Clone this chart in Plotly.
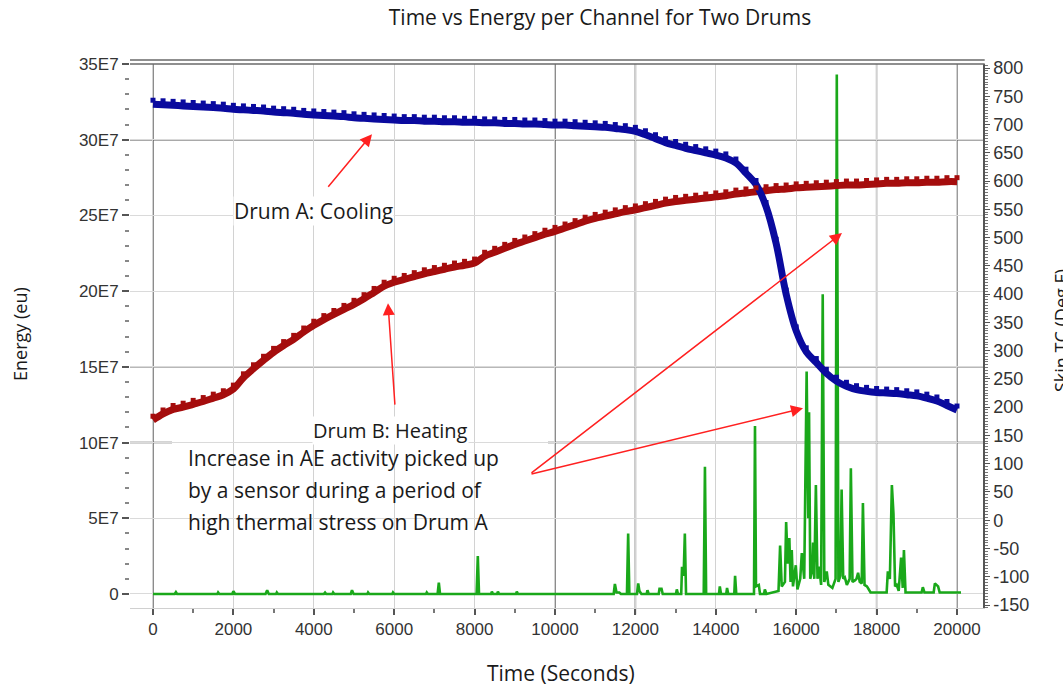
import plotly.graph_objects as go

# ---------------- data ----------------
temp_time = [i * 250 for i in range(81)]  # seconds, sampled every 250 s

drum_a_temp = [736, 735, 734, 733, 732, 731, 730, 729, 727, 726, 725, 724, 722, 721, 720, 718,
               717, 716, 715, 714, 712, 711, 710, 709, 708, 707, 707, 706, 706, 705, 705, 704,
               704, 703, 703, 702, 702, 701, 701, 700, 699, 699, 698, 697, 696, 695, 693, 691,
               688, 682, 675, 668, 663, 658, 654, 650, 646, 641, 632, 614, 594, 555, 490, 400,
               335, 298, 279, 260, 246, 237, 231, 228, 226, 225, 224, 222, 220, 216, 211, 203, 195]

drum_b_temp = [177, 188, 196, 200, 205, 210, 216, 222, 232, 252, 268, 283, 297, 309, 320, 333,
               345, 355, 364, 373, 382, 392, 403, 414, 421, 426, 431, 436, 440, 444, 448, 451,
               455, 467, 474, 481, 488, 494, 500, 506, 511, 517, 523, 529, 534, 538, 542, 546,
               549, 553, 557, 561, 564, 566, 568, 570, 572, 574, 577, 579, 581, 583, 585, 586,
               588, 589, 590, 591, 592, 593, 593, 594, 595, 596, 596, 597, 597, 598, 598, 599, 599]

ae_time = [0, 540, 570, 600, 1600, 1620, 1650, 1970, 2000, 2040, 2800, 2840, 2880, 3060, 3080, 3110,
           4250, 4280, 4310, 4460, 4480, 4510, 4920, 4950, 4990, 5330, 5350, 5380, 5950, 5970, 6000,
           6790, 6810, 6840, 7080, 7110, 7140, 8050, 8080, 8110, 8410, 8430, 8460, 8560, 8580, 8610,
           9030, 9050, 9080, 11460, 11490, 11530, 11600, 11640, 11790, 11820, 11850, 12040, 12070,
           12100, 12150, 12280, 12300, 12330, 12580, 12600, 12650, 12680, 13010, 13030, 13060, 13140,
           13160, 13200, 13230, 13260, 13700, 13730, 13760, 14080, 14100, 14130, 14260, 14280, 14310,
           14460, 14480, 14510, 14950, 14975, 15000, 15070, 15100, 15200, 15220, 15260, 15560, 15600,
           15640, 15720, 15750, 15790, 15830, 15860, 15890, 15920, 15990, 16030, 16100, 16140, 16200,
           16260, 16300, 16320, 16350, 16380, 16400, 16420, 16450, 16490, 16530, 16570, 16620, 16660,
           16700, 16760, 16800, 16900, 16980, 17010, 17050, 17100, 17130, 17170, 17210, 17260, 17330,
           17360, 17400, 17460, 17500, 17540, 17580, 17630, 17660, 17700, 17760, 17850, 18000, 18250,
           18280, 18330, 18380, 18420, 18460, 18500, 18550, 18610, 18650, 18680, 18720, 19120, 19150,
           19190, 19420, 19450, 19490, 19530, 19570, 20100]

ae_energy_e7 = [0, 0, 0.12, 0, 0, 0.1, 0, 0, 0.18, 0, 0, 0.25, 0, 0, 0.1, 0,
                0, 0.1, 0, 0, 0.1, 0, 0, 0.25, 0, 0, 0.1, 0, 0, 0.1, 0,
                0, 0.1, 0, 0, 0.75, 0, 0, 2.5, 0, 0, 0.15, 0, 0, 0.15, 0,
                0, 0.15, 0, 0, 0.66, 0.1, 0.1, 0, 0, 4.0, 0, 0, 0.7,
                0.2, 0, 0, 0.25, 0, 0, 0.35, 0.35, 0, 0, 0.3, 0, 0,
                1.8, 1.2, 4.0, 0, 0, 8.4, 0, 0, 0.5, 0, 0, 0.4, 0,
                0, 1.2, 0, 0, 11.1, 0.5, 0.6, 0, 0, 0.3, 0, 0.2, 3.2,
                0.5, 0.8, 4.75, 2.0, 3.7, 0.8, 2.9, 0.5, 1.9, 0.3, 1.0, 2.7, 1.0,
                14.7, 5.0, 12.0, 1.0, 1.4, 1.6, 3.4, 1.0, 7.2, 1.0, 1.8, 0.6, 19.8,
                0.8, 1.5, 0.6, 0.4, 1.0, 34.3, 0.8, 1.2, 6.9, 1.0, 1.1, 0.6, 1.0,
                8.3, 0.8, 0.9, 1.0, 1.4, 0.8, 0.7, 6.0, 0.6, 0.5, 0.1, 0.1, 0.1,
                1.5, 1.0, 7.2, 5.3, 0.5, 0.6, 0.2, 2.4, 0.4, 2.9, 0.1, 0.1, 0.45,
                0.1, 0.1, 0.7, 0.6, 0.5, 0.1, 0.1]
ae_energy = [v * 1e7 for v in ae_energy_e7]

energy_tick_vals = [0, 5e7, 10e7, 15e7, 20e7, 25e7, 30e7, 35e7]
energy_tick_text = ["0", "5E7", "10E7", "15E7", "20E7", "25E7", "30E7", "35E7"]
time_tick_vals = [0, 2000, 4000, 6000, 8000, 10000, 12000, 14000, 16000, 18000, 20000]
time_tick_text = ["0", "2000", "4000", "6000", "8000", "10000", "12000", "14000", "16000",
                  "18000", "20000"]
temp_tick_vals = [-150, -100, -50, 0, 50, 100, 150, 200, 250, 300, 350, 400, 450, 500, 550,
                  600, 650, 700, 750, 800]
temp_tick_text = ["-150", "-100", "-50", "0", "50", "100", "150", "200", "250", "300", "350",
                  "400", "450", "500", "550", "600", "650", "700", "750", "800"]

# ---------------- styling ----------------
W, H = 1063, 687
ML, MR, MT, MB = 130, 80, 64, 79
BLUE = "#0a0a9e"
RED = "#a50d0d"
GREEN = "#1aa81a"
ARROW = "#ff2020"
FONT = "Open Sans"
TICKFONT = "Liberation Sans, Arial"

x_range = [-572, 20647]
y_range = [-0.925e7, 35e7]
y2_range = [-155.3, 807.1]
marker_shift = 7.0
y3_range = [y2_range[0] - marker_shift, y2_range[1] - marker_shift]

fig = go.Figure()

fig.add_trace(go.Scatter(x=ae_time, y=ae_energy, mode="lines", yaxis="y",
                         line=dict(color=GREEN, width=2.6), name="AE energy"))
fig.add_trace(go.Scatter(x=temp_time, y=drum_b_temp, mode="lines", yaxis="y2",
                         line=dict(color=RED, width=7, shape="spline"), name="Drum B"))
fig.add_trace(go.Scatter(x=temp_time, y=drum_b_temp, mode="markers", yaxis="y3",
                         marker=dict(color=RED, size=5, symbol="square"), name="Drum B pts"))
fig.add_trace(go.Scatter(x=temp_time, y=drum_a_temp, mode="lines", yaxis="y2",
                         line=dict(color=BLUE, width=7, shape="spline"), name="Drum A"))
fig.add_trace(go.Scatter(x=temp_time, y=drum_a_temp, mode="markers", yaxis="y3",
                         marker=dict(color=BLUE, size=5, symbol="square"), name="Drum A pts"))


def px_x(px):
    return (px - ML) / (W - ML - MR)


def px_y(py):
    return (H - MB - py) / (H - MT - MB)


shapes = []
# emphasised grid lines
for xv, col in [(0, "#6e6e6e"), (10000, "#6e6e6e"), (12000, "#7e7e7e"), (18000, "#a8a8a8"), (20000, "#808080")]:
    shapes.append(dict(type="line", xref="x", yref="paper", x0=xv, x1=xv, y0=-0.012, y1=1,
                       line=dict(color=col, width=1.6), layer="below"))
for yv, col in [(10e7, "#555555"), (30e7, "#555555"), (15e7, "#a0a0a0")]:
    shapes.append(dict(type="line", xref="paper", yref="y", x0=0, x1=1, y0=yv, y1=yv,
                       line=dict(color=col, width=1.6), layer="below"))
# top double border
for yp in [1.0, 1.0 + 4 / 544]:
    shapes.append(dict(type="line", xref="paper", yref="paper", x0=0, x1=1.002, y0=yp, y1=yp,
                       line=dict(color="#6a6a6a", width=1.3)))
# white box behind the AE explanation text
shapes.append(dict(type="rect", xref="paper", yref="paper", x0=px_x(172), x1=px_x(548),
                   y0=px_y(540), y1=px_y(437), fillcolor="white", line=dict(width=0),
                   layer="between"))

ann = []
txt_col = "#1a1a1a"
ann.append(dict(text="Drum A: Cooling", xref="paper", yref="paper", x=px_x(313), y=px_y(211),
                showarrow=False, font=dict(family=FONT, size=21, color=txt_col),
                bgcolor="white", xanchor="center", yanchor="middle", borderpad=0))
ann.append(dict(text="Drum B: Heating", xref="paper", yref="paper", x=px_x(390), y=px_y(431),
                showarrow=False, font=dict(family=FONT, size=20, color=txt_col),
                bgcolor="white", xanchor="center", yanchor="middle", borderpad=0))
for line_txt, py in [("Increase in AE activity picked up", 458),
                     ("by a sensor during a period of", 490),
                     ("high thermal stress on Drum A", 522)]:
    ann.append(dict(text=line_txt, xref="paper", yref="paper", x=px_x(186), y=px_y(py),
                    showarrow=False, font=dict(family=FONT, size=21, color=txt_col),
                    xanchor="left", yanchor="middle"))

# arrows (tip in data coords, tail offset in px)
for tx, ty, axp, ayp in [(5448, 683, -45, 54), (5846, 384, 7, 103),
                         (17139, 508, -312, 241), (16169, 198, -273, 66)]:
    ann.append(dict(text="", x=tx, y=ty, xref="x", yref="y2", ax=axp, ay=ayp,
                    showarrow=True, arrowhead=2, arrowsize=1.6, arrowwidth=1.5,
                    arrowcolor=ARROW, standoff=0))

# axis titles / title
ann.append(dict(text="Time (Seconds)", xref="paper", yref="paper", x=px_x(561), y=px_y(673),
                showarrow=False, font=dict(family=FONT, size=21, color=txt_col),
                xanchor="center", yanchor="middle"))
ann.append(dict(text="Energy (eu)", xref="paper", yref="paper", x=px_x(20), y=px_y(334),
                showarrow=False, textangle=-90, font=dict(family=FONT, size=18, color=txt_col),
                xanchor="center", yanchor="middle"))
ann.append(dict(text="Skin TC (Deg F)", xref="paper", yref="paper", x=px_x(1061), y=px_y(331),
                showarrow=False, textangle=-90, font=dict(family=FONT, size=18, color=txt_col),
                xanchor="center", yanchor="middle"))

fig.update_layout(
    width=W, height=H,
    margin=dict(l=ML, r=MR, t=MT, b=MB),
    paper_bgcolor="white", plot_bgcolor="white",
    showlegend=False,
    title=dict(text="Time vs Energy per Channel for Two Drums", x=600 / W, y=1 - 18 / H,
               xanchor="center", yanchor="middle",
               font=dict(family=FONT, size=21, color=txt_col)),
    xaxis=dict(range=x_range, tickvals=time_tick_vals, ticktext=time_tick_text,
               showgrid=True, gridcolor="#d2d2d2",
               gridwidth=1, zeroline=False, showline=True, linecolor="#d0d0d0",
               ticks="outside", ticklen=6, tickcolor="#555555", tickwidth=1.5,
               minor=dict(dtick=1000, tick0=0, ticks="outside", ticklen=4, tickcolor="#777777",
                          showgrid=False),
               tickfont=dict(family=TICKFONT, size=17, color="#333333")),
    yaxis=dict(range=y_range, tickvals=energy_tick_vals, ticktext=energy_tick_text,
               showgrid=True, gridcolor="#dadada", zeroline=False, showline=False,
               ticks="outside", ticklen=7, tickcolor="#555555", tickwidth=1.5,
               minor=dict(dtick=1e7, tick0=0, ticks="outside", ticklen=4, tickcolor="#888888",
                          showgrid=False),
               tickfont=dict(family=TICKFONT, size=17, color="#333333")),
    yaxis2=dict(range=y2_range, overlaying="y", side="right",
                tickvals=temp_tick_vals, ticktext=temp_tick_text,
                showgrid=False, zeroline=False, showline=True, linecolor="#555555", linewidth=1.5,
                ticks="outside", ticklen=5, tickcolor="#555555",
                minor=dict(dtick=5, tick0=0, ticks="outside", ticklen=3, tickcolor="#777777"),
                tickfont=dict(family=TICKFONT, size=18, color="#333333")),
    yaxis3=dict(range=y3_range, overlaying="y", side="right", visible=False),
    shapes=shapes,
    annotations=ann,
)

fig.write_html("out.html")
